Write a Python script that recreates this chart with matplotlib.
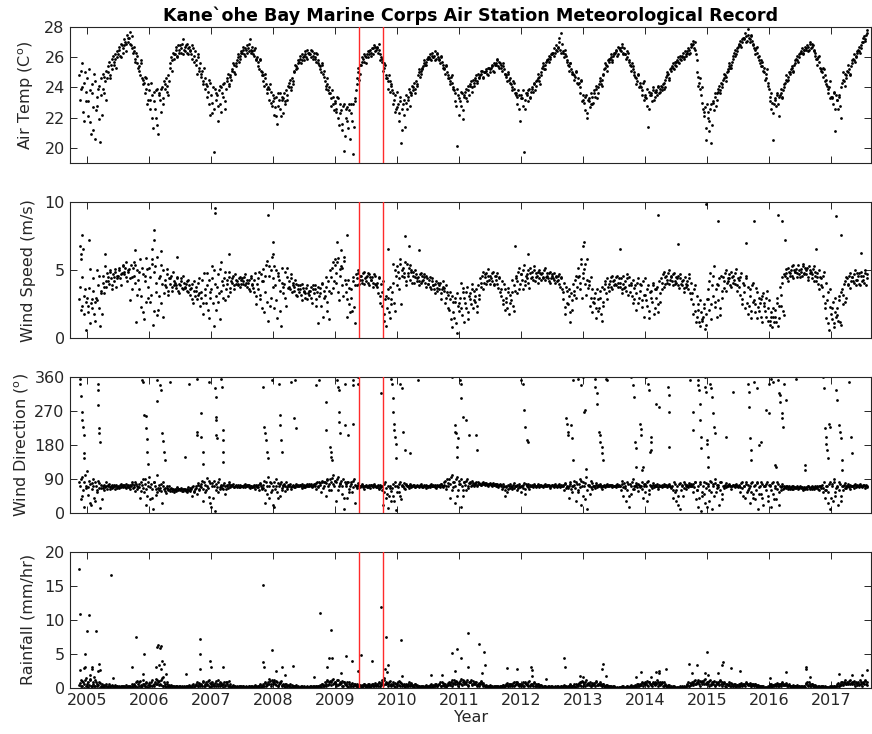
import numpy as np
import matplotlib

matplotlib.use("Agg")
import matplotlib.pyplot as plt

# eight readings per month, stored as two interleaved sets of four;
# first row starts mid-Nov 2004, last row ends Jul 2017
YEARS = list(range(2004, 2018))
SLOTS = 48

air_temp = [
    [24.8, 23.9, 25.6, 22.4, 24.3, 23.1],
    [24.6, 22.1, 23.8, 20.9, 23.6, 21.2, 24.4, 22.5, 22.8, 24.1, 20.4, 23.5, 24.9, 23.6, 24.4, 25.1,
     25.0, 25.7, 24.8, 25.9, 26.1, 25.5, 25.9, 26.4, 26.2, 26.7, 26.0, 26.8, 26.6, 27.2, 26.9, 27.5,
     27.0, 27.7, 26.8, 26.6, 26.7, 25.9, 26.3, 25.6, 25.4, 24.8, 25.6, 24.5, 24.3, 23.6, 24.6, 23.2],
    [23.8, 22.6, 23.5, 21.3, 23.1, 22.0, 23.9, 20.9, 23.6, 22.4, 24.0, 23.3, 23.9, 24.6, 24.1, 23.5,
     25.3, 26.0, 25.8, 26.2, 26.2, 26.7, 26.1, 26.5, 26.8, 26.3, 27.2, 26.5, 26.4, 26.9, 26.2, 26.7,
     26.5, 25.9, 26.6, 26.1, 25.8, 24.9, 26.0, 25.3, 24.7, 25.1, 24.2, 24.6, 24.2, 23.4, 24.5, 22.2],
    [23.5, 22.3, 19.7, 23.9, 23.2, 21.8, 23.8, 22.9, 24.0, 23.4, 24.3, 22.6, 24.4, 24.9, 24.2, 24.7,
     25.1, 25.6, 25.0, 25.4, 25.8, 26.2, 25.9, 26.3, 26.3, 26.7, 26.1, 26.5, 26.8, 26.4, 27.2, 26.5,
     26.4, 26.1, 26.6, 25.8, 25.7, 25.2, 25.8, 25.0, 24.8, 24.1, 24.6, 23.9, 24.0, 23.2, 23.7, 22.8],
    [23.1, 22.2, 23.4, 21.6, 22.8, 23.6, 22.1, 23.2, 23.3, 22.9, 23.8, 23.5, 24.0, 24.5, 23.8, 24.4,
     25.0, 25.5, 25.2, 25.6, 25.7, 26.1, 25.8, 26.0, 26.1, 26.4, 25.9, 26.3, 26.3, 26.0, 26.4, 26.1,
     26.0, 25.7, 26.2, 25.6, 25.4, 25.0, 25.5, 24.7, 24.4, 23.9, 24.2, 23.6, 23.6, 22.8, 23.4, 22.5],
    [23.0, 22.4, 23.3, 21.5, 22.3, 21.6, 22.8, 19.8, 22.0, 22.7, 21.3, 22.5, 22.9, 21.8, 19.6, 23.1,
     23.8, 24.6, 25.3, 24.9, 25.5, 26.0, 25.7, 26.1, 26.0, 26.4, 26.2, 26.5, 26.3, 26.6, 26.8, 26.4,
     26.7, 26.3, 26.5, 25.8, 25.9, 25.1, 25.6, 24.8, 24.6, 23.9, 24.4, 24.1, 23.8, 22.9, 23.5, 22.6],
    [22.7, 21.8, 23.1, 20.3, 22.6, 23.2, 21.4, 23.0, 23.4, 23.9, 22.8, 23.6, 23.8, 24.3, 23.6, 24.2,
     24.8, 25.2, 24.9, 25.3, 25.4, 25.8, 25.5, 25.9, 25.9, 26.2, 25.8, 26.1, 26.0, 26.4, 25.9, 26.2,
     25.9, 25.6, 26.0, 25.5, 25.3, 24.9, 25.4, 24.8, 24.6, 24.2, 24.8, 23.9, 23.8, 23.1, 20.1, 23.5],
    [23.3, 22.8, 23.6, 21.9, 23.5, 23.9, 23.1, 23.8, 24.1, 24.4, 23.7, 24.3, 24.5, 24.8, 24.3, 24.7,
     24.8, 25.1, 24.7, 25.0, 25.0, 25.2, 24.8, 25.3, 25.2, 25.5, 25.1, 25.6, 25.5, 25.8, 25.4, 25.7,
     25.5, 25.1, 25.4, 24.9, 24.8, 24.4, 24.9, 24.3, 24.2, 23.8, 24.3, 23.6, 23.6, 22.9, 23.5, 21.8],
    [23.5, 22.8, 19.7, 23.2, 23.6, 23.1, 23.9, 23.4, 24.0, 23.7, 24.3, 24.1, 24.5, 24.9, 24.4, 24.8,
     25.3, 25.6, 25.2, 25.7, 25.8, 26.1, 25.9, 26.2, 26.2, 26.6, 26.3, 26.8, 26.7, 27.3, 26.5, 27.6,
     26.3, 26.0, 26.5, 25.8, 25.5, 25.1, 25.6, 24.9, 24.9, 24.5, 25.0, 24.3, 24.2, 23.6, 24.4, 23.1],
    [23.2, 22.5, 23.5, 22.0, 23.1, 22.7, 23.6, 22.9, 23.8, 23.4, 24.1, 23.6, 24.2, 24.6, 24.1, 24.8,
     25.2, 25.6, 25.4, 25.8, 25.9, 26.2, 25.8, 26.1, 26.3, 26.5, 26.1, 26.7, 26.6, 26.4, 26.9, 26.3,
     26.2, 25.9, 26.4, 25.7, 25.5, 25.1, 25.4, 24.8, 24.7, 24.2, 24.8, 24.0, 24.1, 23.5, 24.3, 23.2],
    [23.5, 22.8, 21.4, 23.7, 23.6, 23.1, 24.0, 23.4, 23.8, 23.5, 24.1, 23.7, 24.1, 23.8, 24.3, 24.0,
     24.7, 25.0, 24.6, 25.2, 25.3, 25.6, 25.2, 25.5, 25.7, 26.0, 25.6, 26.1, 26.0, 26.3, 25.9, 26.2,
     26.3, 26.6, 26.2, 26.7, 26.8, 27.1, 26.5, 26.2, 25.0, 24.1, 24.6, 23.5, 23.0, 22.1, 22.7, 20.5],
    [22.0, 21.1, 22.6, 20.3, 23.0, 22.5, 23.6, 23.2, 23.7, 24.1, 23.6, 24.2, 24.5, 24.9, 24.4, 25.0,
     25.2, 25.6, 25.3, 25.7, 26.1, 26.5, 26.2, 26.6, 26.8, 27.1, 26.7, 27.2, 27.2, 27.6, 27.0, 27.9,
     27.3, 27.0, 27.4, 26.8, 26.6, 26.2, 26.7, 26.0, 25.8, 25.4, 25.7, 25.1, 25.0, 24.6, 25.2, 24.1],
    [23.4, 22.6, 23.0, 20.5, 23.3, 22.8, 23.6, 22.1, 23.5, 23.9, 23.3, 24.0, 24.3, 24.8, 24.5, 25.0,
     25.0, 25.4, 25.1, 25.5, 25.8, 26.1, 25.7, 26.2, 26.3, 26.6, 26.2, 26.5, 26.5, 26.8, 26.4, 26.9,
     26.6, 26.9, 26.5, 26.3, 25.9, 25.5, 26.1, 25.3, 25.1, 24.7, 25.2, 24.4, 24.2, 23.6, 24.0, 23.3],
    [23.4, 22.9, 23.7, 21.1, 23.2, 22.6, 23.5, 22.0, 24.3, 25.0, 24.1, 24.8, 25.1, 25.5, 24.9, 25.4,
     25.8, 26.2, 25.7, 26.1, 26.4, 26.7, 26.3, 26.8, 27.0, 27.4, 27.2, 27.6],
]

air_temp_late = [
    [23.2, 25.1, 24.0, 21.8, 25.0, 23.7],
    [23.1, 25.2, 21.7, 24.2, 22.7, 24.9, 20.6, 23.4, 23.9, 21.9, 24.6, 22.2, 23.9, 24.7, 23.2, 24.6,
     25.4, 24.6, 25.5, 25.2, 25.7, 26.2, 25.3, 26.0, 26.5, 26.1, 26.9, 26.3, 26.8, 27.0, 26.4, 27.3,
     27.3, 26.9, 27.4, 26.3, 26.4, 25.7, 26.1, 25.3, 25.1, 25.8, 24.6, 24.2, 24.7, 23.9, 22.9, 24.2],
    [23.2, 24.3, 22.0, 23.7, 22.6, 23.8, 21.5, 23.5, 23.2, 23.9, 22.9, 24.4, 24.2, 23.7, 24.8, 24.4,
     25.6, 25.1, 26.3, 25.9, 26.5, 26.0, 26.8, 26.3, 26.6, 26.9, 26.2, 26.7, 26.8, 26.3, 26.6, 26.4,
     26.2, 26.8, 25.7, 26.4, 25.5, 26.2, 25.1, 25.6, 24.9, 24.4, 25.3, 23.9, 24.1, 23.7, 22.9, 24.3],
    [23.0, 24.0, 22.6, 23.6, 23.5, 22.8, 24.1, 22.4, 23.6, 24.2, 23.1, 23.9, 24.6, 24.1, 24.8, 24.5,
     25.2, 25.5, 24.9, 25.6, 26.0, 25.7, 26.1, 26.4, 26.5, 26.2, 26.6, 26.3, 26.6, 26.9, 26.3, 26.7,
     26.2, 26.5, 25.9, 26.0, 25.4, 25.9, 25.1, 24.8, 24.4, 24.9, 24.2, 23.6, 23.9, 24.2, 23.0, 23.5],
    [23.3, 22.7, 22.1, 23.6, 23.2, 22.6, 23.4, 22.3, 23.6, 23.1, 23.2, 24.1, 24.3, 24.0, 24.6, 24.2,
     25.1, 25.4, 25.3, 25.8, 25.9, 25.6, 26.2, 25.8, 26.2, 26.0, 26.5, 26.2, 26.2, 26.5, 25.9, 26.3,
     25.9, 26.3, 25.8, 25.5, 25.2, 25.6, 24.9, 25.1, 24.1, 24.6, 23.8, 24.0, 23.3, 23.8, 22.9, 23.1],
    [22.6, 23.4, 22.0, 22.9, 22.5, 21.2, 22.9, 20.8, 22.6, 21.8, 22.9, 20.6, 22.3, 22.9, 21.4, 23.3,
     24.2, 25.0, 24.5, 25.5, 25.7, 25.9, 26.2, 25.6, 26.2, 26.0, 26.4, 26.1, 26.6, 26.2, 26.7, 26.5,
     26.6, 26.9, 26.2, 26.0, 25.7, 25.3, 25.5, 24.6, 24.4, 24.8, 23.7, 24.2, 23.6, 23.2, 22.4, 23.7],
    [22.9, 22.3, 23.4, 21.2, 22.9, 22.2, 23.5, 22.6, 23.2, 23.7, 23.5, 24.1, 24.0, 23.9, 24.4, 24.1,
     25.0, 24.7, 25.1, 25.2, 25.6, 25.5, 25.7, 26.0, 26.0, 25.9, 26.3, 26.0, 26.1, 25.8, 26.3, 26.0,
     25.8, 26.1, 25.7, 25.3, 25.2, 25.5, 25.0, 24.6, 24.4, 24.7, 24.3, 24.0, 23.6, 22.8, 23.9, 22.2],
    [23.1, 23.7, 22.5, 23.4, 23.7, 23.3, 24.1, 23.5, 24.2, 24.0, 24.5, 24.1, 24.6, 24.4, 24.9, 24.6,
     24.9, 25.1, 24.6, 25.0, 25.1, 24.9, 25.3, 25.0, 25.3, 25.4, 25.0, 25.5, 25.6, 25.9, 25.3, 25.6,
     25.3, 25.6, 25.2, 24.9, 24.7, 25.0, 24.5, 24.6, 24.0, 24.4, 23.9, 23.5, 23.4, 23.8, 22.6, 23.3],
    [23.3, 23.8, 22.6, 23.6, 23.5, 23.8, 23.3, 23.7, 23.9, 24.2, 23.8, 24.4, 24.6, 24.7, 24.2, 25.0,
     25.4, 25.2, 25.5, 25.8, 25.9, 25.7, 26.0, 26.3, 26.3, 26.1, 26.5, 26.4, 26.6, 27.0, 26.3, 26.9,
     26.4, 26.2, 26.1, 25.7, 25.4, 25.6, 25.2, 25.0, 24.8, 24.7, 25.1, 24.6, 24.3, 24.0, 24.5, 23.5],
    [23.0, 23.4, 22.3, 23.2, 23.3, 22.9, 23.4, 23.0, 23.6, 23.9, 23.3, 24.0, 24.4, 24.2, 24.5, 24.9,
     25.3, 25.5, 25.1, 25.7, 25.9, 26.0, 25.7, 26.2, 26.3, 26.4, 26.2, 26.6, 26.5, 26.7, 26.2, 26.6,
     26.2, 26.0, 26.3, 25.8, 25.4, 25.6, 25.2, 25.0, 24.6, 24.4, 24.9, 24.3, 24.0, 23.8, 24.4, 23.4],
    [23.3, 23.9, 22.6, 23.5, 23.5, 23.8, 23.2, 23.7, 23.7, 24.0, 23.6, 23.9, 24.0, 24.2, 23.9, 24.5,
     24.8, 24.9, 24.5, 25.1, 25.4, 25.3, 25.7, 25.4, 25.8, 25.7, 25.9, 25.8, 26.1, 26.0, 26.4, 26.1,
     26.4, 26.5, 26.3, 26.9, 26.9, 26.6, 27.0, 25.8, 24.7, 24.3, 23.9, 24.0, 22.6, 22.4, 21.3, 22.9],
    [22.4, 21.8, 22.9, 21.5, 23.1, 23.4, 22.8, 23.6, 23.9, 23.8, 24.3, 24.0, 24.6, 24.8, 24.7, 25.1,
     25.4, 25.3, 25.5, 25.9, 26.3, 26.1, 26.4, 26.7, 26.9, 26.8, 27.0, 27.3, 27.3, 27.4, 27.1, 27.5,
     27.2, 27.5, 27.1, 26.9, 26.5, 26.6, 26.3, 26.1, 25.6, 25.8, 25.4, 25.3, 24.5, 24.9, 24.3, 23.9],
    [23.1, 23.6, 22.3, 22.9, 23.2, 23.5, 22.9, 23.4, 23.6, 23.4, 23.8, 24.2, 24.5, 24.4, 24.7, 24.9,
     25.2, 25.3, 25.0, 25.6, 25.9, 25.8, 26.0, 26.3, 26.4, 26.3, 26.5, 26.7, 26.6, 26.7, 26.5, 27.0,
     26.7, 26.8, 26.4, 26.1, 25.9, 26.0, 25.7, 25.2, 25.0, 25.3, 24.8, 24.5, 24.1, 23.9, 24.4, 23.4],
    [23.3, 23.6, 22.6, 23.5, 23.2, 23.4, 22.8, 24.0, 24.5, 24.4, 24.9, 24.6, 25.0, 25.2, 24.8, 25.6,
     25.9, 25.8, 26.0, 26.3, 26.5, 26.4, 26.6, 27.0, 27.3, 27.1, 27.5, 27.8],
]

wind_speed = [
    [2.9, 5.8, 2.4, 6.6, 3.1, 0.6],
    [3.0, 1.9, 5.1, 2.6, 2.2, 4.4, 1.3, 3.0, 2.8, 4.6, 0.9, 3.5, 4.1, 3.3, 5.3, 3.8,
     4.5, 4.0, 4.9, 3.6, 4.7, 4.2, 5.1, 4.4, 4.6, 5.2, 3.9, 4.8, 5.3, 4.7, 5.6, 4.2,
     4.9, 2.8, 5.4, 4.5, 5.6, 4.1, 1.2, 5.0, 3.6, 5.8, 2.3, 4.7, 1.4, 4.2, 5.9, 3.0],
    [5.2, 2.7, 5.8, 1.0, 4.9, 3.4, 6.0, 2.1, 3.1, 5.4, 4.0, 1.6, 4.3, 3.8, 5.1, 3.2,
     4.0, 4.6, 3.5, 4.2, 4.1, 3.7, 4.5, 3.3, 3.9, 4.4, 3.6, 4.1, 3.7, 4.2, 3.4, 3.9,
     3.2, 4.0, 2.6, 3.5, 3.5, 2.9, 4.1, 3.3, 3.0, 4.3, 1.8, 3.6, 2.6, 4.8, 1.5, 3.4],
    [3.6, 5.3, 0.9, 4.0, 2.1, 4.7, 3.3, 1.4, 5.6, 3.9, 4.4, 2.8, 4.3, 3.1, 4.9, 3.7,
     4.1, 4.6, 3.6, 4.3, 4.2, 3.9, 4.5, 4.0, 4.4, 4.0, 4.7, 4.1, 3.8, 4.3, 3.5, 4.6,
     4.0, 3.4, 4.8, 2.5, 3.6, 4.9, 2.9, 4.2, 5.1, 1.9, 4.6, 5.7, 1.3, 5.3, 3.0, 6.0],
    [4.4, 2.2, 5.0, 1.5, 4.8, 3.5, 0.9, 4.1, 3.3, 4.9, 2.4, 4.5, 4.2, 3.6, 4.7, 3.9,
     3.8, 4.3, 3.2, 3.6, 3.4, 3.9, 2.8, 3.7, 3.5, 3.0, 3.9, 3.3, 3.2, 3.8, 2.6, 3.6,
     3.9, 2.9, 3.4, 1.1, 3.7, 2.4, 4.1, 3.0, 3.1, 4.5, 2.0, 3.5, 5.0, 3.3, 5.6, 4.2],
    [5.4, 4.1, 5.9, 2.8, 4.6, 5.2, 3.1, 5.7, 3.4, 1.6, 4.3, 2.5, 3.6, 2.0, 4.5, 1.1,
     4.7, 3.9, 5.0, 4.3, 4.6, 4.1, 4.9, 4.4, 4.2, 4.8, 3.9, 4.5, 4.3, 3.8, 4.7, 4.0,
     4.1, 3.3, 4.4, 2.6, 2.4, 4.2, 1.3, 3.1, 2.2, 3.6, 1.5, 2.9, 3.4, 5.5, 2.0, 4.6],
    [5.3, 4.4, 5.8, 2.5, 5.0, 4.5, 5.6, 3.9, 4.8, 5.2, 4.3, 5.0, 4.6, 4.1, 5.0, 4.4,
     4.5, 3.9, 4.8, 4.2, 4.3, 4.7, 3.8, 4.4, 4.0, 4.5, 3.6, 4.2, 3.9, 3.3, 4.2, 3.7,
     3.6, 4.1, 2.9, 3.8, 3.5, 2.6, 3.9, 3.2, 2.1, 3.4, 0.8, 2.7, 1.5, 3.0, 0.4, 2.4],
    [2.6, 4.1, 1.7, 3.4, 3.0, 2.2, 3.8, 1.4, 3.3, 2.5, 4.0, 2.8, 2.7, 3.6, 1.9, 3.2,
     4.4, 3.8, 4.9, 4.1, 4.5, 4.0, 5.1, 4.3, 4.6, 4.2, 4.9, 3.9, 4.3, 4.8, 3.7, 4.5,
     3.1, 4.2, 2.5, 3.6, 3.0, 2.2, 3.7, 2.6, 2.8, 4.3, 2.0, 3.5, 4.6, 3.3, 5.2, 4.0],
    [4.7, 3.6, 5.4, 4.2, 4.4, 5.0, 3.7, 4.8, 4.9, 4.3, 5.3, 4.5, 4.6, 4.1, 5.0, 4.7,
     4.8, 4.4, 5.2, 4.5, 4.6, 4.2, 4.9, 4.4, 4.7, 4.3, 4.1, 4.5, 4.3, 4.7, 3.8, 4.4,
     2.9, 4.1, 1.8, 3.5, 2.5, 3.6, 1.2, 2.8, 4.0, 3.2, 4.6, 3.8, 5.2, 4.1, 5.8, 3.0],
    [4.8, 5.5, 3.2, 4.3, 3.9, 2.4, 4.5, 1.9, 2.6, 3.3, 1.5, 2.9, 2.2, 3.5, 1.3, 2.7,
     3.6, 4.2, 2.9, 3.8, 4.0, 4.5, 3.6, 4.2, 4.3, 3.9, 4.6, 4.1, 3.8, 4.4, 3.3, 4.0,
     4.2, 3.5, 4.7, 3.9, 3.4, 4.1, 2.6, 3.7, 3.9, 2.1, 4.4, 3.0, 3.5, 2.8, 4.2, 1.6],
    [3.2, 2.4, 3.9, 1.5, 3.5, 2.7, 4.1, 2.2, 3.0, 3.8, 1.9, 3.3, 4.4, 3.6, 4.9, 4.0,
     4.6, 4.1, 5.0, 4.3, 4.5, 3.9, 4.8, 4.2, 4.1, 4.6, 3.7, 4.4, 3.9, 4.3, 3.4, 4.0,
     4.2, 3.6, 4.7, 2.9, 3.3, 1.8, 3.9, 1.2, 1.6, 2.5, 0.9, 1.9, 1.3, 2.2, 0.7, 1.8],
    [3.6, 2.1, 4.8, 1.4, 3.1, 5.3, 2.3, 4.0, 2.8, 4.4, 1.7, 3.5, 4.5, 3.7, 5.0, 4.1,
     4.2, 4.7, 3.8, 4.5, 4.6, 4.0, 5.1, 3.5, 4.3, 3.2, 4.8, 2.5, 3.9, 2.2, 4.4, 1.8,
     2.4, 3.6, 1.5, 4.1, 2.8, 1.9, 3.4, 2.3, 2.0, 2.9, 1.2, 3.3, 2.6, 1.6, 3.5, 2.2],
    [1.3, 1.9, 0.8, 1.6, 2.1, 1.2, 3.0, 1.5, 3.8, 2.4, 4.5, 1.7, 4.6, 5.1, 4.2, 4.9,
     4.8, 5.3, 4.4, 5.0, 4.9, 4.5, 5.4, 4.7, 5.1, 4.6, 5.5, 4.8, 4.7, 5.2, 4.3, 5.0,
     4.9, 4.4, 5.3, 4.6, 4.2, 4.8, 3.6, 4.5, 4.4, 3.1, 4.9, 2.6, 1.5, 3.4, 0.6, 2.3],
    [1.4, 2.7, 0.8, 1.9, 2.2, 1.3, 3.1, 1.0, 3.6, 2.5, 4.2, 3.0, 4.4, 3.9, 4.8, 4.2,
     4.5, 4.1, 5.0, 4.3, 4.3, 4.8, 3.9, 4.6, 4.6, 4.1, 5.0, 4.4],
]

wind_speed_late = [
    [3.8, 2.1, 4.5, 1.8, 3.6, 2.7],
    [2.4, 3.7, 1.1, 2.9, 3.5, 1.8, 2.7, 5.0, 3.9, 2.2, 3.3, 1.8, 4.6, 3.8, 4.2, 4.8,
     4.2, 5.0, 4.4, 3.9, 4.5, 4.9, 3.8, 4.6, 5.0, 4.4, 4.7, 5.4, 4.9, 5.2, 4.5, 5.0,
     5.1, 4.4, 3.6, 5.2, 4.6, 5.4, 3.2, 4.3, 4.9, 3.1, 5.2, 1.9, 4.6, 2.7, 5.1, 3.8],
    [4.5, 3.2, 5.5, 2.0, 5.3, 4.1, 1.7, 4.4, 4.6, 2.6, 5.0, 3.3, 3.9, 4.7, 3.5, 4.4,
     4.4, 3.8, 4.9, 3.9, 3.9, 4.4, 3.5, 4.0, 4.2, 3.7, 4.6, 3.8, 4.0, 3.5, 4.3, 3.6,
     3.7, 2.9, 4.2, 3.1, 3.8, 3.2, 4.4, 2.4, 3.4, 2.6, 4.8, 3.2, 3.9, 2.1, 4.3, 3.0],
    [4.4, 2.6, 5.0, 3.1, 3.8, 2.7, 5.1, 3.5, 4.2, 3.0, 4.9, 3.6, 4.0, 4.5, 3.4, 4.2,
     4.4, 3.9, 4.7, 4.0, 4.0, 4.4, 3.8, 4.3, 4.2, 4.5, 3.9, 4.3, 4.1, 3.6, 4.4, 3.9,
     3.7, 4.3, 3.1, 4.0, 4.4, 3.2, 4.7, 2.2, 4.2, 3.4, 5.4, 2.7, 4.6, 2.4, 5.0, 3.8],
    [5.3, 3.9, 2.8, 4.6, 4.3, 2.0, 5.2, 3.8, 4.0, 3.0, 5.2, 3.7, 3.8, 4.4, 3.4, 4.1,
     3.5, 4.0, 3.1, 3.9, 3.6, 3.2, 4.0, 3.4, 3.3, 3.7, 2.9, 3.5, 3.5, 3.0, 3.9, 3.3,
     3.6, 2.4, 3.8, 3.1, 3.3, 4.0, 1.6, 3.5, 3.8, 2.7, 4.2, 1.4, 4.5, 5.2, 3.7, 5.8],
    [4.8, 5.6, 3.4, 5.1, 5.3, 3.9, 6.0, 4.3, 4.0, 2.9, 3.7, 1.9, 3.0, 4.2, 2.3, 3.9,
     4.4, 4.8, 4.0, 4.6, 4.3, 4.8, 4.0, 4.5, 4.6, 4.1, 4.7, 4.3, 4.5, 4.1, 4.6, 3.9,
     3.8, 4.5, 3.1, 4.0, 3.4, 1.8, 2.9, 0.9, 3.0, 1.9, 3.8, 2.5, 4.1, 2.6, 5.0, 3.9],
    [4.9, 3.6, 5.5, 4.6, 5.2, 4.8, 4.2, 5.5, 4.6, 5.4, 4.9, 4.1, 4.9, 4.5, 4.7, 4.2,
     4.2, 4.7, 4.1, 4.6, 4.5, 4.1, 4.6, 4.0, 4.3, 3.8, 4.4, 3.9, 3.6, 4.0, 3.5, 4.1,
     3.9, 3.3, 3.6, 4.2, 3.7, 3.0, 3.4, 2.2, 2.9, 1.4, 3.1, 1.9, 2.7, 1.1, 3.3, 2.0],
    [3.0, 2.2, 3.7, 1.2, 2.6, 3.4, 1.9, 3.1, 2.9, 3.6, 2.2, 3.5, 3.1, 2.4, 3.9, 2.9,
     4.1, 4.6, 3.6, 4.7, 4.8, 4.2, 4.6, 4.0, 4.4, 4.8, 4.0, 4.6, 4.6, 4.0, 4.4, 3.4,
     3.6, 2.8, 4.0, 2.1, 2.7, 3.4, 1.8, 3.2, 3.4, 2.4, 3.9, 4.4, 4.2, 4.9, 3.6, 4.7],
    [4.3, 5.0, 3.9, 4.6, 4.7, 4.1, 5.2, 4.4, 4.5, 5.0, 4.2, 4.8, 4.9, 4.4, 4.8, 4.3,
     4.5, 5.0, 4.3, 4.8, 4.4, 4.8, 4.1, 4.6, 4.4, 4.8, 4.6, 4.2, 4.6, 4.0, 4.5, 3.6,
     3.4, 2.3, 3.8, 2.6, 3.1, 1.9, 3.3, 2.1, 3.5, 4.3, 3.0, 4.5, 4.6, 3.6, 5.5, 4.4],
    [5.1, 4.0, 5.8, 3.7, 4.2, 3.0, 3.6, 2.7, 3.0, 2.2, 3.6, 2.0, 3.0, 1.8, 3.8, 2.4,
     4.0, 3.3, 4.4, 3.5, 4.2, 3.8, 4.6, 3.9, 4.0, 4.5, 3.8, 4.4, 4.1, 3.6, 4.6, 3.7,
     3.8, 4.4, 3.2, 4.5, 3.9, 3.1, 4.3, 2.9, 3.3, 4.1, 2.6, 4.0, 3.9, 2.3, 3.2, 4.4],
    [2.8, 3.6, 2.0, 3.4, 3.0, 3.9, 1.8, 3.6, 3.6, 2.5, 4.2, 2.7, 4.1, 4.7, 3.8, 4.5,
     4.3, 4.8, 4.0, 4.6, 4.2, 4.7, 4.0, 4.5, 4.4, 3.9, 4.7, 4.0, 4.2, 3.7, 4.5, 3.8,
     3.9, 4.4, 3.3, 4.1, 2.5, 3.6, 2.0, 3.1, 2.1, 1.2, 2.8, 1.4, 1.6, 2.5, 1.0, 2.9],
    [2.9, 4.2, 2.5, 3.9, 4.6, 2.7, 3.6, 1.6, 3.9, 2.2, 4.6, 3.0, 4.2, 4.8, 3.5, 4.4,
     4.4, 3.9, 4.9, 4.1, 4.3, 4.8, 3.9, 4.4, 3.8, 4.5, 2.9, 4.1, 3.4, 4.6, 2.6, 3.8,
     3.1, 2.0, 3.9, 2.7, 2.5, 3.7, 1.5, 3.0, 2.6, 1.6, 3.1, 2.4, 2.0, 3.0, 1.3, 2.8],
    [1.0, 1.6, 2.2, 1.2, 1.6, 2.6, 0.9, 2.4, 3.2, 4.1, 2.0, 4.7, 4.8, 4.4, 5.2, 4.6,
     5.0, 4.6, 5.4, 4.9, 5.1, 4.8, 5.0, 4.5, 4.9, 5.3, 4.7, 5.2, 5.0, 4.5, 5.3, 4.8,
     4.7, 5.1, 4.2, 4.9, 4.5, 4.0, 5.0, 3.9, 3.8, 4.6, 2.2, 4.1, 2.8, 1.1, 3.6, 1.8],
    [2.2, 1.1, 3.0, 1.6, 1.7, 2.8, 1.2, 3.4, 3.2, 4.0, 2.7, 4.5, 4.0, 4.6, 3.7, 4.5,
     4.2, 4.7, 3.9, 4.8, 4.6, 4.0, 4.9, 4.2, 4.3, 4.8, 3.9, 4.7],
]

wind_dir = [
    [80, 35, 95, 60, 15, 72],
    [110, 48, 75, 20, 64, 90, 30, 70, 55, 78, 12, 66, 72, 60, 68, 80, 70, 76, 64, 73, 68, 74, 71, 66,
     72, 67, 75, 70, 69, 73, 66, 71, 74, 64, 70, 77, 68, 58, 75, 71, 76, 40, 82, 65, 55, 88, 20, 70],
    [95, 35, 62, 10, 80, 48, 100, 66, 60, 75, 25, 70, 65, 52, 72, 60, 58, 66, 62, 54, 64, 58, 67, 62,
     60, 66, 57, 63, 62, 55, 68, 60, 66, 45, 70, 58, 72, 50, 78, 64, 68, 85, 30, 74, 60, 92, 42, 78],
    [15, 70, 85, 5, 75, 55, 88, 68, 70, 62, 78, 50, 73, 66, 80, 70, 71, 75, 68, 74, 69, 73, 67, 72,
     72, 68, 76, 70, 70, 74, 65, 71, 68, 73, 64, 70, 74, 60, 79, 66, 65, 85, 25, 72, 95, 40, 78, 60],
    [70, 15, 88, 55, 78, 45, 82, 66, 72, 58, 80, 68, 70, 76, 64, 74, 72, 68, 75, 70, 70, 74, 66, 72,
     73, 69, 76, 71, 71, 75, 67, 73, 76, 62, 80, 70, 78, 55, 84, 72, 82, 45, 90, 75, 88, 60, 100, 70],
    [85, 30, 95, 72, 78, 50, 88, 10, 70, 40, 80, 62, 76, 55, 85, 25, 72, 66, 78, 70, 70, 75, 64, 72,
     71, 68, 74, 66, 73, 69, 76, 70, 68, 74, 62, 71, 60, 20, 75, 40, 50, 12, 70, 30, 65, 45, 80, 8],
    [72, 55, 80, 35, 70, 78, 62, 74, 72, 66, 76, 70, 70, 74, 67, 72, 71, 68, 75, 70, 69, 73, 66, 71,
     72, 68, 75, 70, 70, 74, 65, 72, 73, 67, 77, 70, 74, 85, 62, 78, 90, 40, 100, 68, 80, 25, 95, 60],
    [85, 15, 70, 45, 80, 60, 88, 72, 78, 70, 84, 74, 76, 82, 72, 79, 77, 73, 80, 75, 74, 78, 71, 76,
     75, 71, 78, 73, 72, 76, 68, 74, 70, 62, 76, 45, 68, 55, 74, 66, 72, 64, 78, 70, 70, 60, 76, 68],
    [72, 66, 78, 50, 70, 75, 64, 72, 73, 68, 77, 71, 71, 75, 67, 73, 72, 69, 76, 70, 70, 74, 66, 72,
     73, 69, 77, 71, 71, 75, 68, 72, 74, 60, 78, 68, 66, 40, 75, 55, 70, 85, 30, 76, 60, 90, 20, 72],
    [80, 35, 95, 10, 70, 50, 85, 64, 72, 66, 78, 70, 70, 75, 64, 72, 73, 68, 76, 71, 71, 74, 67, 72,
     72, 68, 75, 70, 70, 60, 85, 45, 65, 30, 80, 15, 75, 50, 88, 62, 70, 78, 58, 74, 68, 80, 40, 72],
    [75, 30, 85, 60, 72, 66, 78, 70, 70, 76, 64, 72, 71, 67, 75, 70, 73, 69, 76, 71, 65, 40, 80, 55,
     60, 20, 75, 10, 70, 45, 82, 62, 74, 68, 78, 70, 72, 55, 80, 35, 60, 15, 75, 5, 45, 80, 25, 65],
    [70, 30, 85, 55, 75, 45, 88, 65, 68, 20, 80, 50, 72, 66, 78, 70, 70, 75, 64, 72, 73, 68, 76, 70,
     71, 55, 78, 66, 72, 40, 80, 60, 65, 25, 78, 50, 70, 35, 82, 10, 68, 50, 76, 20, 72, 60, 80, 45],
    [70, 15, 78, 50, 65, 35, 80, 55, 70, 60, 76, 66, 68, 72, 63, 70, 66, 70, 62, 68, 67, 71, 64, 69,
     65, 69, 61, 67, 68, 64, 71, 66, 67, 70, 62, 68, 66, 72, 60, 70, 70, 55, 80, 40, 60, 25, 75, 10],
    [75, 30, 90, 55, 68, 20, 80, 45, 72, 60, 78, 66, 70, 75, 64, 72, 71, 66, 76, 70, 73, 68, 77, 71,
     70, 74, 65, 72],
]

wind_dir_late = [
    [72, 88, 45, 80, 100, 65],
    [68, 85, 25, 78, 72, 40, 82, 60, 85, 65, 74, 35, 66, 74, 70, 63, 74, 68, 71, 66, 71, 64, 73, 69,
     66, 73, 69, 74, 72, 67, 75, 69, 69, 73, 80, 66, 74, 80, 63, 69, 68, 58, 74, 88, 75, 62, 45, 80],
    [68, 75, 40, 82, 70, 62, 55, 74, 66, 58, 80, 64, 58, 66, 62, 70, 62, 58, 64, 60, 60, 65, 59, 64,
     64, 58, 62, 60, 58, 64, 61, 57, 62, 68, 55, 64, 66, 74, 60, 70, 75, 62, 80, 55, 72, 66, 84, 25],
    [78, 40, 72, 60, 68, 82, 62, 74, 66, 74, 70, 64, 70, 76, 68, 73, 74, 69, 72, 70, 71, 68, 74, 70,
     70, 73, 69, 74, 73, 69, 72, 68, 71, 67, 74, 69, 69, 75, 71, 62, 74, 60, 80, 50, 70, 82, 55, 20],
    [80, 62, 72, 40, 70, 76, 60, 74, 76, 70, 64, 74, 73, 68, 72, 70, 69, 74, 71, 73, 73, 70, 75, 68,
     70, 74, 72, 75, 74, 70, 72, 76, 72, 78, 68, 82, 74, 82, 66, 80, 78, 86, 70, 60, 82, 92, 76, 85],
    [80, 88, 60, 76, 84, 72, 40, 80, 76, 82, 55, 70, 80, 68, 90, 74, 70, 74, 72, 68, 73, 68, 71, 74,
     69, 72, 70, 73, 70, 74, 72, 68, 72, 66, 74, 69, 70, 55, 80, 65, 72, 45, 66, 58, 75, 30, 70, 55],
    [68, 76, 45, 74, 72, 66, 76, 70, 70, 74, 68, 72, 73, 69, 71, 74, 70, 73, 72, 68, 72, 70, 74, 69,
     70, 73, 71, 74, 72, 69, 73, 70, 70, 75, 72, 68, 80, 70, 88, 72, 75, 95, 60, 82, 70, 88, 45, 76],
    [75, 90, 60, 80, 74, 84, 66, 78, 80, 74, 78, 72, 78, 74, 80, 76, 74, 78, 76, 79, 77, 73, 75, 78,
     73, 76, 74, 77, 75, 70, 73, 76, 74, 68, 72, 60, 72, 64, 70, 76, 68, 74, 66, 72, 74, 66, 72, 55],
    [70, 74, 62, 76, 73, 68, 74, 70, 70, 74, 72, 69, 73, 70, 74, 71, 70, 73, 71, 74, 73, 71, 70, 74,
     70, 74, 72, 69, 73, 70, 74, 71, 70, 76, 65, 72, 72, 80, 62, 70, 74, 66, 82, 55, 76, 68, 84, 45],
    [70, 78, 60, 74, 74, 68, 78, 72, 70, 74, 68, 73, 73, 69, 72, 70, 70, 73, 72, 74, 73, 70, 74, 71,
     70, 74, 72, 73, 72, 75, 68, 78, 72, 60, 76, 45, 70, 80, 64, 72, 73, 68, 76, 70, 72, 62, 76, 55],
    [70, 80, 50, 74, 70, 74, 68, 73, 72, 68, 74, 70, 73, 70, 72, 74, 70, 73, 72, 68, 72, 60, 76, 30,
     70, 45, 78, 60, 74, 66, 76, 70, 70, 74, 72, 76, 76, 68, 82, 60, 70, 40, 80, 55, 72, 50, 78, 15],
    [76, 60, 80, 10, 70, 78, 55, 74, 74, 60, 82, 35, 70, 74, 68, 73, 73, 70, 72, 74, 70, 74, 72, 68,
     74, 68, 80, 45, 70, 76, 55, 74, 72, 55, 80, 40, 74, 60, 78, 50, 72, 80, 40, 70, 70, 76, 30, 74],
    [74, 60, 80, 35, 72, 62, 76, 20, 68, 72, 64, 70, 66, 70, 68, 64, 68, 64, 70, 66, 65, 68, 66, 70,
     68, 64, 66, 63, 66, 70, 68, 62, 64, 68, 66, 70, 68, 64, 70, 66, 74, 66, 60, 72, 70, 55, 80, 40],
    [70, 80, 45, 66, 72, 60, 76, 30, 70, 74, 66, 72, 72, 68, 74, 70, 70, 73, 68, 72, 70, 74, 72, 68,
     73, 70, 74, 69],
]

rainfall = [
    [0.4, 1.2, 0.2, 0.8, 0.0, 1.5],
    [0.6, 0.1, 1.1, 0.3, 0.0, 0.5, 0.2, 0.9, 0.3, 0.0, 0.7, 0.1, 0.2, 0.4, 0.0, 0.3,
     0.1, 0.6, 0.2, 0.0, 0.3, 0.1, 0.4, 0.2, 0.0, 0.2, 0.1, 0.3, 0.2, 0.0, 0.4, 0.1,
     0.1, 0.3, 0.0, 0.5, 0.4, 0.2, 0.8, 0.1, 0.3, 1.0, 0.1, 0.6, 0.5, 0.2, 0.9, 0.0],
    [0.7, 0.2, 1.1, 0.4, 0.3, 1.3, 0.6, 0.9, 1.0, 0.4, 1.4, 0.2, 0.5, 0.1, 0.8, 0.3,
     0.2, 0.4, 0.0, 0.3, 0.1, 0.2, 0.3, 0.0, 0.2, 0.0, 0.1, 0.3, 0.0, 0.2, 0.1, 0.4,
     0.3, 0.1, 0.6, 0.0, 0.4, 0.9, 0.2, 0.5, 0.6, 0.2, 1.0, 0.3, 0.8, 0.4, 1.2, 0.1],
    [0.5, 0.9, 0.2, 0.7, 0.3, 1.1, 0.6, 0.2, 0.7, 0.1, 0.9, 0.4, 0.8, 0.2, 1.0, 0.3,
     0.1, 0.4, 0.2, 0.0, 0.2, 0.0, 0.3, 0.1, 0.0, 0.2, 0.1, 0.3, 0.1, 0.3, 0.0, 0.2,
     0.2, 0.0, 0.4, 0.1, 0.3, 0.1, 0.5, 0.2, 0.5, 0.2, 0.8, 0.4, 0.9, 1.3, 0.3, 1.1],
    [0.6, 1.2, 0.4, 0.8, 0.3, 0.7, 1.0, 0.2, 0.4, 0.1, 0.6, 0.2, 0.2, 0.5, 0.0, 0.3,
     0.1, 0.2, 0.4, 0.0, 0.0, 0.1, 0.2, 0.1, 0.2, 0.0, 0.1, 0.0, 0.1, 0.3, 0.0, 0.2,
     0.0, 0.2, 0.1, 0.3, 0.4, 0.1, 0.6, 0.2, 0.8, 0.3, 1.2, 0.5, 1.0, 0.4, 1.3, 0.7],
    [0.9, 0.3, 1.1, 0.6, 0.5, 1.0, 0.2, 0.8, 0.4, 0.9, 0.1, 0.6, 0.3, 0.7, 0.2, 0.5,
     0.2, 0.5, 0.0, 0.4, 0.3, 0.1, 0.6, 0.2, 0.4, 0.2, 0.5, 0.1, 0.2, 0.6, 0.3, 0.4,
     0.5, 0.2, 0.8, 0.3, 1.1, 0.4, 1.4, 0.6, 0.7, 0.3, 1.0, 0.2, 0.4, 0.8, 0.1, 0.5],
    [0.6, 1.0, 0.3, 0.7, 0.2, 0.5, 0.1, 0.4, 0.3, 0.8, 0.2, 0.5, 0.4, 0.1, 0.6, 0.2,
     0.1, 0.3, 0.0, 0.2, 0.2, 0.0, 0.4, 0.1, 0.3, 0.1, 0.5, 0.2, 0.4, 0.2, 0.6, 0.3,
     0.5, 0.9, 0.2, 0.7, 0.3, 0.6, 0.1, 0.4, 0.8, 0.4, 1.1, 0.5, 1.2, 0.6, 0.9, 0.3],
    [0.7, 1.3, 0.4, 0.9, 1.0, 0.5, 1.2, 0.3, 0.8, 1.1, 0.4, 0.6, 0.5, 0.9, 0.2, 0.7,
     0.6, 1.0, 0.3, 0.4, 0.2, 0.4, 0.1, 0.3, 0.1, 0.3, 0.0, 0.2, 0.2, 0.0, 0.3, 0.1,
     0.3, 0.1, 0.4, 0.2, 0.4, 0.7, 0.2, 0.5, 0.6, 0.2, 0.9, 0.4, 0.5, 0.8, 0.3, 0.6],
    [0.4, 0.9, 0.2, 0.7, 0.6, 0.3, 1.0, 0.4, 0.5, 0.2, 0.8, 0.3, 0.3, 0.6, 0.1, 0.4,
     0.2, 0.0, 0.3, 0.1, 0.1, 0.2, 0.0, 0.3, 0.0, 0.1, 0.2, 0.0, 0.2, 0.0, 0.1, 0.3,
     0.1, 0.4, 0.2, 0.0, 0.3, 0.1, 0.5, 0.2, 0.2, 0.6, 0.1, 0.4, 0.5, 0.9, 0.2, 1.0],
    [0.8, 0.3, 1.1, 0.5, 0.4, 0.9, 0.2, 0.6, 0.7, 0.3, 1.0, 0.4, 0.5, 0.8, 0.2, 0.6,
     0.3, 0.1, 0.4, 0.2, 0.1, 0.3, 0.0, 0.2, 0.2, 0.0, 0.1, 0.0, 0.0, 0.1, 0.3, 0.0,
     0.1, 0.0, 0.2, 0.1, 0.2, 0.4, 0.0, 0.3, 0.4, 0.1, 0.6, 0.2, 0.6, 0.9, 0.3, 0.7],
    [0.5, 1.0, 0.3, 0.8, 0.6, 0.2, 0.9, 0.4, 0.7, 1.1, 0.3, 0.8, 0.5, 0.9, 0.2, 0.6,
     0.3, 0.1, 0.4, 0.0, 0.1, 0.0, 0.2, 0.1, 0.0, 0.1, 0.0, 0.2, 0.2, 0.0, 0.1, 0.3,
     0.4, 0.8, 0.2, 0.6, 0.9, 0.4, 1.2, 0.5, 0.7, 1.1, 0.3, 0.9, 1.0, 0.5, 1.3, 0.6],
    [0.8, 0.3, 1.1, 0.5, 0.6, 1.0, 0.2, 0.7, 0.9, 0.4, 1.2, 0.3, 0.5, 0.8, 0.1, 0.6,
     0.4, 0.9, 0.2, 0.5, 0.3, 0.6, 0.1, 0.4, 0.5, 0.2, 0.7, 0.3, 0.6, 0.3, 0.8, 0.4,
     0.4, 0.7, 0.2, 0.5, 0.3, 0.6, 0.1, 0.4, 0.1, 0.3, 0.0, 0.2, 0.0, 0.1, 0.0, 0.2],
    [0.3, 0.6, 0.1, 0.4, 0.5, 0.2, 0.7, 0.3, 0.6, 0.3, 0.8, 0.4, 0.4, 0.7, 0.2, 0.5,
     0.3, 0.1, 0.4, 0.2, 0.2, 0.4, 0.0, 0.3, 0.1, 0.3, 0.0, 0.2, 0.5, 0.9, 0.2, 0.6,
     0.3, 0.6, 0.1, 0.4, 0.2, 0.0, 0.3, 0.1, 0.1, 0.3, 0.0, 0.2, 0.0, 0.1, 0.0, 0.2],
    [0.2, 0.0, 0.3, 0.1, 0.3, 0.7, 0.2, 0.9, 0.8, 0.4, 1.1, 0.6, 0.9, 0.5, 1.2, 0.7,
     0.6, 1.0, 0.3, 0.8, 0.7, 0.4, 1.1, 0.5, 0.9, 0.6, 1.2, 0.4],
]

rainfall_late = [
    [0.7, 0.3, 1.0, 0.5, 1.2, 0.3],
    [0.9, 0.4, 1.3, 0.2, 0.8, 0.3, 1.1, 0.6, 0.4, 0.9, 0.2, 0.5, 0.1, 0.3, 0.5, 0.0,
     0.3, 0.0, 0.2, 0.4, 0.0, 0.2, 0.1, 0.3, 0.1, 0.0, 0.3, 0.1, 0.3, 0.1, 0.0, 0.2,
     0.2, 0.0, 0.3, 0.1, 0.6, 0.3, 1.0, 0.5, 0.8, 0.4, 0.2, 1.1, 0.3, 0.7, 0.1, 0.4],
    [0.4, 0.9, 0.3, 0.6, 0.8, 0.5, 1.1, 0.4, 0.6, 1.2, 0.3, 0.9, 0.3, 0.6, 0.2, 0.4,
     0.1, 0.3, 0.2, 0.0, 0.2, 0.0, 0.1, 0.2, 0.1, 0.2, 0.0, 0.1, 0.2, 0.1, 0.3, 0.0,
     0.1, 0.4, 0.2, 0.3, 0.6, 0.2, 0.7, 0.3, 0.4, 0.8, 0.3, 0.6, 0.5, 1.0, 0.2, 0.7],
    [0.3, 0.6, 0.4, 1.0, 0.5, 0.2, 0.8, 0.4, 0.4, 0.6, 0.2, 0.8, 0.5, 0.3, 0.6, 0.1,
     0.2, 0.0, 0.3, 0.1, 0.1, 0.3, 0.0, 0.2, 0.2, 0.1, 0.0, 0.1, 0.0, 0.2, 0.1, 0.0,
     0.1, 0.3, 0.2, 0.0, 0.2, 0.4, 0.1, 0.3, 0.3, 0.7, 0.2, 0.6, 0.6, 1.0, 0.5, 0.8],
    [0.9, 0.5, 1.0, 0.3, 0.5, 0.9, 0.4, 0.6, 0.2, 0.5, 0.3, 0.4, 0.3, 0.1, 0.4, 0.2,
     0.2, 0.0, 0.1, 0.3, 0.1, 0.2, 0.0, 0.1, 0.0, 0.1, 0.2, 0.1, 0.2, 0.0, 0.1, 0.3,
     0.1, 0.3, 0.2, 0.0, 0.3, 0.5, 0.2, 0.4, 0.6, 1.0, 0.4, 0.9, 0.8, 1.1, 0.5, 0.9],
    [0.6, 1.2, 0.4, 0.8, 0.7, 0.3, 0.9, 0.5, 0.6, 0.2, 0.8, 0.3, 0.5, 0.3, 0.6, 0.4,
     0.3, 0.1, 0.4, 0.2, 0.4, 0.2, 0.5, 0.1, 0.3, 0.6, 0.2, 0.4, 0.5, 0.3, 0.7, 0.2,
     0.4, 0.7, 0.3, 0.6, 0.8, 1.2, 0.5, 0.9, 0.5, 0.9, 0.4, 0.6, 0.6, 0.3, 0.7, 0.2],
    [0.8, 0.4, 0.9, 0.5, 0.4, 0.3, 0.6, 0.2, 0.6, 0.4, 0.7, 0.3, 0.2, 0.5, 0.3, 0.4,
     0.2, 0.1, 0.3, 0.0, 0.1, 0.3, 0.2, 0.0, 0.2, 0.4, 0.1, 0.3, 0.3, 0.5, 0.2, 0.4,
     0.6, 0.3, 0.8, 0.4, 0.5, 0.2, 0.4, 0.7, 0.6, 0.9, 0.3, 0.7, 0.8, 1.0, 0.5, 0.7],
    [1.0, 0.6, 1.1, 0.5, 0.7, 0.9, 0.4, 0.8, 0.9, 0.5, 1.0, 0.7, 0.8, 0.4, 0.6, 0.3,
     0.8, 0.5, 0.7, 0.2, 0.3, 0.1, 0.2, 0.4, 0.2, 0.0, 0.1, 0.3, 0.1, 0.2, 0.0, 0.2,
     0.2, 0.4, 0.1, 0.3, 0.5, 0.3, 0.6, 0.2, 0.4, 0.7, 0.3, 0.8, 0.7, 0.4, 0.6, 0.2],
    [0.6, 0.3, 0.8, 0.5, 0.4, 0.8, 0.2, 0.6, 0.4, 0.7, 0.3, 0.6, 0.5, 0.2, 0.4, 0.3,
     0.1, 0.3, 0.2, 0.0, 0.2, 0.0, 0.1, 0.2, 0.1, 0.0, 0.1, 0.2, 0.0, 0.1, 0.2, 0.1,
     0.3, 0.0, 0.2, 0.1, 0.2, 0.4, 0.1, 0.3, 0.3, 0.1, 0.5, 0.2, 0.7, 0.4, 0.8, 0.3],
    [0.6, 0.9, 0.4, 0.7, 0.6, 0.3, 0.7, 0.4, 0.5, 0.8, 0.4, 0.6, 0.4, 0.6, 0.3, 0.5,
     0.2, 0.4, 0.1, 0.3, 0.2, 0.0, 0.1, 0.1, 0.1, 0.0, 0.0, 0.1, 0.1, 0.0, 0.2, 0.0,
     0.0, 0.2, 0.1, 0.0, 0.3, 0.1, 0.2, 0.0, 0.3, 0.5, 0.2, 0.4, 0.4, 0.7, 0.5, 0.8],
    [0.7, 0.4, 0.9, 0.6, 0.4, 0.7, 0.5, 0.8, 0.5, 0.9, 0.6, 0.4, 0.7, 0.3, 0.8, 0.4,
     0.2, 0.4, 0.1, 0.2, 0.0, 0.2, 0.1, 0.0, 0.1, 0.0, 0.1, 0.0, 0.1, 0.2, 0.0, 0.1,
     0.5, 0.3, 0.7, 0.4, 0.7, 1.0, 0.6, 0.8, 0.9, 0.5, 1.0, 0.6, 0.8, 1.1, 0.7, 0.9],
    [0.6, 1.0, 0.4, 0.9, 0.8, 0.4, 0.9, 0.5, 0.7, 1.0, 0.5, 0.8, 0.7, 0.3, 0.6, 0.4,
     0.6, 0.3, 0.7, 0.3, 0.5, 0.2, 0.4, 0.2, 0.3, 0.6, 0.4, 0.5, 0.4, 0.7, 0.5, 0.6,
     0.6, 0.3, 0.5, 0.4, 0.5, 0.2, 0.4, 0.3, 0.2, 0.1, 0.3, 0.0, 0.1, 0.0, 0.1, 0.0],
    [0.5, 0.2, 0.4, 0.3, 0.4, 0.6, 0.3, 0.5, 0.5, 0.7, 0.4, 0.6, 0.6, 0.3, 0.4, 0.3,
     0.2, 0.3, 0.1, 0.2, 0.3, 0.1, 0.2, 0.1, 0.2, 0.1, 0.2, 0.1, 0.7, 0.4, 0.8, 0.3,
     0.5, 0.2, 0.4, 0.3, 0.1, 0.2, 0.0, 0.2, 0.2, 0.0, 0.1, 0.1, 0.1, 0.0, 0.1, 0.0],
    [0.1, 0.2, 0.0, 0.2, 0.5, 0.2, 0.6, 0.4, 0.6, 0.9, 0.7, 0.5, 0.7, 1.0, 0.6, 0.8,
     0.8, 0.5, 0.7, 0.4, 0.9, 0.6, 0.8, 0.3, 0.7, 1.0, 0.5, 0.8],
]

# readings off the regular grid: (decimal year, value)
wind_speed_peaks = [
    (2004.90, 6.8), (2004.91, 6.2), (2004.92, 7.6), (2005.03, 7.2), (2005.30, 6.2), (2005.78, 6.5),
    (2006.06, 6.6), (2006.08, 8.0), (2006.09, 7.2), (2006.20, 6.4), (2006.45, 6.0), (2007.07, 9.6),
    (2007.07, 9.2), (2007.30, 6.2), (2007.92, 9.1), (2008.00, 6.2), (2008.01, 7.1), (2009.04, 7.1),
    (2009.10, 6.5), (2009.19, 7.6), (2009.85, 6.6), (2010.13, 7.5), (2010.20, 6.8), (2010.35, 6.5),
    (2011.90, 6.8), (2012.12, 6.2), (2013.00, 6.8), (2013.02, 7.1), (2013.60, 6.6), (2014.20, 9.1),
    (2014.53, 6.9), (2014.98, 9.9), (2015.17, 8.6), (2015.62, 7.0), (2015.76, 8.6), (2016.14, 9.1),
    (2016.20, 8.6), (2016.25, 7.2), (2016.75, 6.6), (2017.08, 9.0), (2017.15, 7.6), (2017.48, 6.3),
]

wind_dir_north = [
    (2004.89, 355), (2004.90, 340), (2004.91, 310), (2004.92, 267), (2004.93, 245), (2004.94, 228),
    (2004.95, 205), (2004.95, 157), (2004.96, 144), (2005.18, 342), (2005.19, 325), (2005.19, 285),
    (2005.20, 225), (2005.20, 210), (2005.21, 188), (2005.89, 350), (2005.90, 345), (2005.93, 258),
    (2005.95, 255), (2005.96, 223), (2005.97, 195), (2005.98, 160), (2005.99, 130), (2006.13, 350),
    (2006.14, 295), (2006.18, 338), (2006.20, 325), (2006.22, 210), (2006.23, 190), (2006.25, 160),
    (2006.26, 140), (2006.34, 345), (2006.58, 148), (2006.65, 342), (2006.77, 355), (2006.77, 214),
    (2006.78, 205), (2006.84, 263), (2006.84, 201), (2006.88, 160), (2006.88, 130), (2006.97, 347),
    (2007.07, 330), (2007.08, 307), (2007.08, 254), (2007.09, 245), (2007.09, 205), (2007.10, 197),
    (2007.17, 355), (2007.18, 333), (2007.19, 219), (2007.19, 192), (2007.20, 161), (2007.20, 135),
    (2007.84, 333), (2007.86, 228), (2007.88, 210), (2007.89, 192), (2007.90, 161), (2007.92, 144),
    (2007.98, 351), (2008.10, 342), (2008.11, 258), (2008.12, 232), (2008.13, 192), (2008.14, 161),
    (2008.30, 347), (2008.34, 250), (2008.36, 350), (2008.37, 223), (2008.70, 338), (2008.75, 351),
    (2008.86, 294), (2008.86, 219), (2008.92, 175), (2008.93, 160), (2008.94, 148), (2008.95, 139),
    (2009.03, 350), (2009.05, 333), (2009.06, 325), (2009.07, 267), (2009.07, 240), (2009.08, 210),
    (2009.16, 232), (2009.16, 342), (2009.21, 205), (2009.29, 350), (2009.29, 338), (2009.30, 236),
    (2009.37, 360), (2009.37, 342), (2009.75, 316), (2009.91, 355), (2009.92, 342), (2009.93, 303),
    (2009.94, 267), (2009.95, 236), (2009.96, 220), (2009.97, 200), (2009.98, 183), (2009.99, 144),
    (2010.05, 342), (2010.08, 329), (2010.10, 214), (2010.13, 166), (2010.21, 157), (2010.34, 351),
    (2010.88, 360), (2010.93, 232), (2010.94, 214), (2010.95, 210), (2010.96, 175), (2010.97, 148),
    (2010.98, 197), (2011.01, 350), (2011.03, 342), (2011.04, 303), (2011.06, 254), (2011.12, 245),
    (2011.16, 205), (2011.28, 205), (2011.29, 166), (2012.00, 350), (2012.03, 342), (2012.05, 272),
    (2012.07, 228), (2012.09, 192), (2012.11, 188), (2012.73, 250), (2012.74, 236), (2012.75, 214),
    (2012.76, 205), (2012.81, 232), (2012.82, 197), (2012.83, 139), (2012.84, 351), (2012.92, 355),
    (2012.96, 338), (2013.00, 360), (2013.02, 267), (2013.03, 272), (2013.04, 117), (2013.19, 355),
    (2013.20, 333), (2013.22, 316), (2013.23, 289), (2013.25, 214), (2013.27, 205), (2013.28, 188),
    (2013.30, 175), (2013.31, 157), (2013.32, 139), (2013.37, 355), (2013.38, 351), (2013.78, 360),
    (2013.80, 338), (2013.82, 307), (2013.83, 188), (2013.85, 170), (2013.86, 122), (2013.91, 236),
    (2013.93, 221), (2013.94, 205), (2013.95, 113), (2013.96, 122), (2014.02, 360), (2014.04, 340),
    (2014.06, 325), (2014.08, 161), (2014.09, 201), (2014.10, 188), (2014.10, 166), (2014.18, 289),
    (2014.23, 280), (2014.37, 333), (2014.38, 311), (2014.38, 267), (2014.39, 175), (2014.72, 351),
    (2014.77, 267), (2014.77, 219), (2014.85, 350), (2014.86, 338), (2014.87, 325), (2014.88, 289),
    (2014.89, 245), (2014.90, 201), (2014.90, 170), (2014.96, 360), (2014.97, 333), (2014.98, 320),
    (2014.99, 192), (2015.00, 183), (2015.01, 148), (2015.01, 122), (2015.04, 342), (2015.06, 329),
    (2015.08, 307), (2015.10, 263), (2015.11, 228), (2015.12, 210), (2015.30, 201), (2015.41, 320),
    (2015.65, 342), (2015.67, 320), (2015.68, 280), (2015.69, 197), (2015.70, 166), (2015.71, 139),
    (2015.76, 347), (2015.80, 329), (2015.84, 179), (2015.87, 188), (2015.95, 272), (2016.00, 342),
    (2016.00, 263), (2016.03, 355), (2016.06, 347), (2016.09, 126), (2016.11, 122), (2016.14, 351),
    (2016.16, 316), (2016.17, 311), (2016.18, 294), (2016.20, 263), (2016.21, 250), (2016.22, 228),
    (2016.24, 342), (2016.27, 298), (2016.43, 355), (2016.57, 126), (2016.58, 113), (2016.86, 360),
    (2016.88, 329), (2016.90, 223), (2016.91, 201), (2016.92, 183), (2016.93, 166), (2016.94, 144),
    (2016.97, 236), (2016.98, 228), (2017.08, 325), (2017.10, 298), (2017.12, 232), (2017.14, 214),
    (2017.16, 197), (2017.17, 139), (2017.18, 113), (2017.29, 347), (2017.32, 201), (2017.34, 157),
]

rain_events = [
    (2004.88, 17.5), (2004.89, 10.8), (2004.90, 2.6), (2004.95, 2.9), (2004.98, 4.9), (2004.98, 3.0),
    (2005.01, 8.4), (2005.04, 10.7), (2005.06, 1.8), (2005.08, 3.0), (2005.08, 2.8), (2005.12, 1.6),
    (2005.15, 8.4), (2005.18, 2.5), (2005.20, 3.5), (2005.21, 2.6), (2005.39, 16.6), (2005.42, 1.5),
    (2005.73, 3.0), (2005.80, 7.5), (2005.90, 2.0), (2005.92, 4.9), (2006.12, 3.1), (2006.13, 6.0),
    (2006.15, 6.3), (2006.16, 3.3), (2006.18, 5.8), (2006.19, 2.8), (2006.20, 6.1), (2006.22, 4.0),
    (2006.23, 1.6), (2006.24, 3.5), (2006.28, 2.0), (2006.60, 2.0), (2006.82, 7.1), (2006.82, 5.0),
    (2006.83, 2.8), (2006.98, 4.0), (2007.00, 3.0), (2007.20, 3.1), (2007.84, 15.1), (2007.84, 3.8),
    (2007.85, 3.0), (2007.99, 5.5), (2008.05, 2.5), (2008.14, 3.1), (2008.20, 1.8), (2008.33, 3.2),
    (2008.67, 1.6), (2008.76, 11.0), (2008.88, 3.0), (2008.90, 4.4), (2008.93, 8.5), (2008.95, 4.3),
    (2009.10, 2.2), (2009.18, 4.7), (2009.28, 3.9), (2009.38, 2.5), (2009.42, 4.8), (2009.60, 3.9),
    (2009.75, 11.9), (2009.80, 2.8), (2009.82, 7.4), (2009.84, 2.3), (2009.86, 3.4), (2010.07, 7.0),
    (2010.08, 1.7), (2010.55, 1.9), (2010.73, 1.8), (2010.88, 5.1), (2010.93, 2.4), (2010.96, 5.7),
    (2011.03, 4.3), (2011.14, 8.0), (2011.15, 3.1), (2011.33, 6.5), (2011.37, 2.2), (2011.41, 5.3),
    (2011.42, 3.4), (2011.78, 2.9), (2011.93, 2.7), (2012.16, 3.1), (2012.17, 2.6), (2012.18, 1.7),
    (2012.40, 1.3), (2012.70, 4.4), (2012.71, 3.0), (2012.95, 1.7), (2013.00, 1.6), (2013.30, 2.8),
    (2013.32, 3.5), (2013.37, 1.7), (2013.86, 1.6), (2013.93, 2.3), (2014.10, 1.6), (2014.17, 2.3),
    (2014.22, 2.5), (2014.23, 2.1), (2014.34, 2.8), (2014.70, 3.5), (2014.75, 2.1), (2014.84, 3.4),
    (2014.97, 2.2), (2015.00, 5.2), (2015.01, 1.9), (2015.18, 2.1), (2015.24, 3.3), (2015.25, 3.8),
    (2015.39, 2.9), (2015.53, 2.5), (2016.02, 1.5), (2016.27, 2.3), (2016.59, 2.7), (2016.60, 3.1),
    (2016.65, 1.6), (2017.12, 2.0), (2017.34, 1.8), (2017.50, 1.9), (2017.58, 2.6),
]

# period marked in every panel
marked_period = [2009.39, 2009.77]
year_ticks = list(range(2005, 2018))

AX_COLOR = "#262626"


def on_grid(rows, shift=0.0):
    t, v = [], []
    for year, row in zip(YEARS, rows):
        slots = year + (np.arange(SLOTS) + 0.25 + shift) / SLOTS
        slots = slots[-len(row):] if year == YEARS[0] else slots[:len(row)]
        t.extend(slots)
        v.extend(row)
    return np.array(t), np.array(v)


panels = [
    (air_temp, air_temp_late, [], (19, 28), [20, 22, 24, 26, 28], "Air Temp (C$^{\\rm o}$)", -0.043),
    (wind_speed, wind_speed_late, wind_speed_peaks, (0, 10), [0, 5, 10], "Wind Speed (m/s)", -0.043),
    (wind_dir, wind_dir_late, wind_dir_north, (0, 360), [0, 90, 180, 270, 360],
     "Wind Direction ($^{\\rm o}$)", -0.049),
    (rainfall, rainfall_late, rain_events, (0, 20), [0, 5, 10, 15, 20], "Rainfall (mm/hr)", -0.043),
]

W, H = 872, 734
fig = plt.figure(figsize=(W / 100, H / 100), dpi=100)
tops = [27, 202.3, 376.7, 551.7]
left, right, ph = 70.3, 871.0, 136.0

for i, (rows, rows_late, extra, ylim, yticks, ylabel, lx) in enumerate(panels):
    ax = fig.add_axes([left / W, 1 - (tops[i] + ph) / H, (right - left) / W, ph / H])
    t1, v1 = on_grid(rows)
    t2, v2 = on_grid(rows_late, shift=0.5)
    t = np.concatenate([t1, t2])
    v = np.concatenate([v1, v2])
    if extra:
        et, ev = zip(*extra)
        t = np.concatenate([t, et])
        v = np.concatenate([v, ev])
    ax.plot(t, v, ls="none", marker="o", ms=2.0, mew=0, color="black", zorder=2)
    for x in marked_period:
        ax.axvline(x, color="#ff2a2a", lw=1.0, zorder=3)
    ax.set_xlim(2004.736, 2017.64)
    ax.set_ylim(*ylim)
    ax.set_yticks(yticks)
    ax.set_xticks(year_ticks)
    ax.set_ylabel(ylabel, fontsize=11.5, color=AX_COLOR)
    ax.yaxis.set_label_coords(lx, 0.5)
    ax.tick_params(direction="in", top=True, right=True, length=5, width=0.7,
                   colors=AX_COLOR, labelsize=11.5, pad=4)
    for s in ax.spines.values():
        s.set_color(AX_COLOR)
        s.set_linewidth(0.8)
    if i < len(panels) - 1:
        ax.set_xticklabels([])
    else:
        ax.set_xticklabels([str(y) for y in year_ticks])
        ax.set_xlabel("Year", fontsize=11.5, color=AX_COLOR, labelpad=1)

fig.text((left + right) / 2 / W, 1 - 16 / H,
         "Kane`ohe Bay Marine Corps Air Station Meteorological Record",
         ha="center", va="center", fontsize=12.6, fontweight="bold", color="black")

fig.savefig("out.png", dpi=100)
